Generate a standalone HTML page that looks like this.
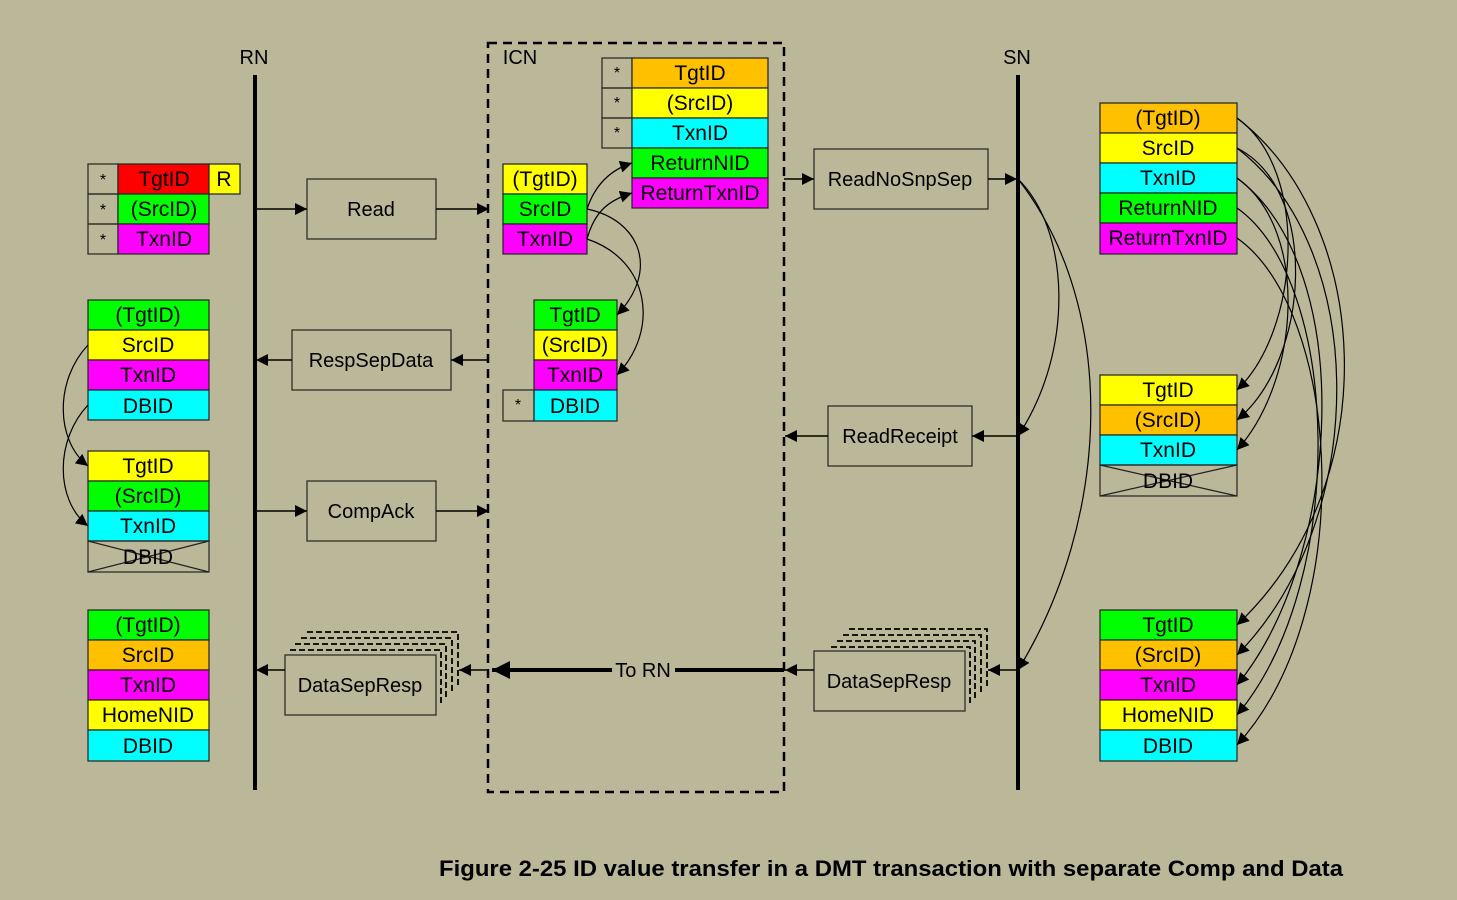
<!DOCTYPE html>
<html><head><meta charset="utf-8"><style>
html,body{margin:0;padding:0;background:#BAB899;}
svg{display:block;}
text{font-family:"Liberation Sans",sans-serif;}
</style></head><body>
<svg width="1457" height="900" viewBox="0 0 1457 900" xmlns="http://www.w3.org/2000/svg">
<defs>
<marker id="a" viewBox="0 0 10 10" refX="10" refY="5" markerWidth="12" markerHeight="12" markerUnits="userSpaceOnUse" orient="auto"><path d="M0,0 L10,5 L0,10 z" fill="#000"/></marker>
<marker id="b" viewBox="0 0 10 10" refX="10" refY="5" markerWidth="18" markerHeight="18" markerUnits="userSpaceOnUse" orient="auto"><path d="M0,0 L10,5 L0,10 z" fill="#000"/></marker>
</defs>
<rect width="1457" height="900" fill="#BAB899"/>
<g font-size="20" text-anchor="middle" fill="#000">
<text x="254" y="64">RN</text><text x="520" y="64">ICN</text><text x="1017" y="64">SN</text>
</g>
<line x1="255" y1="75" x2="255" y2="790" stroke="#000" stroke-width="4"/>
<line x1="1018" y1="75" x2="1018" y2="790" stroke="#000" stroke-width="4"/>
<rect x="488" y="43" width="296" height="749" fill="none" stroke="#000" stroke-width="2.5" stroke-dasharray="9,6"/>

<g stroke="#222" stroke-width="1.2" font-size="20">
<rect x="88" y="164" width="30" height="30" fill="none"/><rect x="88" y="194" width="30" height="30" fill="none"/><rect x="88" y="224" width="30" height="30" fill="none"/>
<rect x="118" y="164" width="91" height="30" fill="#FF0000"/><rect x="118" y="194" width="91" height="30" fill="#00FF00"/><rect x="118" y="224" width="91" height="30" fill="#FF00FF"/>
<rect x="209" y="164" width="31" height="30" fill="#FFFF00"/>
<rect x="88" y="300" width="121" height="30" fill="#00FF00"/><rect x="88" y="330" width="121" height="30" fill="#FFFF00"/><rect x="88" y="360" width="121" height="30" fill="#FF00FF"/><rect x="88" y="390" width="121" height="30" fill="#00FFFF"/>
<rect x="88" y="451" width="121" height="30" fill="#FFFF00"/><rect x="88" y="481" width="121" height="30" fill="#00FF00"/><rect x="88" y="511" width="121" height="30" fill="#00FFFF"/><rect x="88" y="541" width="121" height="31" fill="none"/>
<line x1="88" y1="541" x2="209" y2="572"/><line x1="88" y1="572" x2="209" y2="541"/>
<rect x="88" y="610" width="121" height="30" fill="#00FF00"/><rect x="88" y="640" width="121" height="30" fill="#FFC000"/><rect x="88" y="670" width="121" height="30" fill="#FF00FF"/><rect x="88" y="700" width="121" height="30" fill="#FFFF00"/><rect x="88" y="730" width="121" height="31" fill="#00FFFF"/>
<rect x="602" y="58" width="30" height="30" fill="none"/><rect x="602" y="88" width="30" height="30" fill="none"/><rect x="602" y="118" width="30" height="30" fill="none"/>
<rect x="632" y="58" width="136" height="30" fill="#FFC000"/><rect x="632" y="88" width="136" height="30" fill="#FFFF00"/><rect x="632" y="118" width="136" height="30" fill="#00FFFF"/><rect x="632" y="148" width="136" height="30" fill="#00FF00"/><rect x="632" y="178" width="136" height="30" fill="#FF00FF"/>
<rect x="503" y="164" width="84" height="30" fill="#FFFF00"/><rect x="503" y="194" width="84" height="30" fill="#00FF00"/><rect x="503" y="224" width="84" height="30" fill="#FF00FF"/>
<rect x="534" y="300" width="83" height="30" fill="#00FF00"/><rect x="534" y="330" width="83" height="30" fill="#FFFF00"/><rect x="534" y="360" width="83" height="30" fill="#FF00FF"/><rect x="534" y="390" width="83" height="31" fill="#00FFFF"/>
<rect x="503" y="390" width="31" height="31" fill="none"/>
<rect x="1100" y="103" width="137" height="30" fill="#FFC000"/><rect x="1100" y="133" width="137" height="30" fill="#FFFF00"/><rect x="1100" y="163" width="137" height="30" fill="#00FFFF"/><rect x="1100" y="193" width="137" height="30" fill="#00FF00"/><rect x="1100" y="223" width="137" height="31" fill="#FF00FF"/>
<rect x="1100" y="375" width="137" height="30" fill="#FFFF00"/><rect x="1100" y="405" width="137" height="30" fill="#FFC000"/><rect x="1100" y="435" width="137" height="30" fill="#00FFFF"/><rect x="1100" y="465" width="137" height="31" fill="none"/>
<line x1="1100" y1="496" x2="1237" y2="465"/><line x1="1100" y1="465" x2="1237" y2="496"/>
<rect x="1100" y="610" width="137" height="30" fill="#00FF00"/><rect x="1100" y="640" width="137" height="30" fill="#FFC000"/><rect x="1100" y="670" width="137" height="30" fill="#FF00FF"/><rect x="1100" y="700" width="137" height="30" fill="#FFFF00"/><rect x="1100" y="730" width="137" height="31" fill="#00FFFF"/>
</g>

<g font-size="21" text-anchor="middle" fill="#000">
<text x="103" y="185" font-size="16">*</text><text x="103" y="215" font-size="16">*</text><text x="103" y="245" font-size="16">*</text>
<text x="164" y="186">TgtID</text><text x="164" y="216">(SrcID)</text><text x="164" y="246">TxnID</text><text x="224" y="186">R</text>
<text x="148" y="322">(TgtID)</text><text x="148" y="352">SrcID</text><text x="148" y="382">TxnID</text><text x="148" y="413">DBID</text>
<text x="148" y="473">TgtID</text><text x="148" y="503">(SrcID)</text><text x="148" y="533">TxnID</text><text x="148" y="564">DBID</text>
<text x="148" y="632">(TgtID)</text><text x="148" y="662">SrcID</text><text x="148" y="692">TxnID</text><text x="148" y="722">HomeNID</text><text x="148" y="753">DBID</text>
<text x="617" y="78" font-size="16">*</text><text x="617" y="108" font-size="16">*</text><text x="617" y="138" font-size="16">*</text>
<text x="700" y="80">TgtID</text><text x="700" y="110">(SrcID)</text><text x="700" y="140">TxnID</text><text x="700" y="170">ReturnNID</text><text x="700" y="200">ReturnTxnID</text>
<text x="545" y="186">(TgtID)</text><text x="545" y="216">SrcID</text><text x="545" y="246">TxnID</text>
<text x="575" y="322">TgtID</text><text x="575" y="352">(SrcID)</text><text x="575" y="382">TxnID</text><text x="575" y="413">DBID</text><text x="518" y="410" font-size="16">*</text>
<text x="1168" y="125">(TgtID)</text><text x="1168" y="155">SrcID</text><text x="1168" y="185">TxnID</text><text x="1168" y="215">ReturnNID</text><text x="1168" y="245">ReturnTxnID</text>
<text x="1168" y="397">TgtID</text><text x="1168" y="427">(SrcID)</text><text x="1168" y="457">TxnID</text><text x="1168" y="488">DBID</text>
<text x="1168" y="632">TgtID</text><text x="1168" y="662">(SrcID)</text><text x="1168" y="692">TxnID</text><text x="1168" y="722">HomeNID</text><text x="1168" y="753">DBID</text>
</g>

<g stroke="#222" stroke-width="1.2" fill="none">
<rect x="307" y="179" width="129" height="60"/>
<rect x="292" y="330" width="159" height="60"/>
<rect x="307" y="481" width="129" height="60"/>
<rect x="814" y="149" width="174" height="60"/>
<rect x="828" y="406" width="144" height="60"/>
<g stroke-dasharray="6,3" stroke-width="1.8" stroke="#000">
<path d="M307,632 H458 V688"/><path d="M301,638 H452 V694"/><path d="M295,644 H446 V700"/><path d="M290,650 H441 V706"/>
<path d="M849,629 H987 V687"/><path d="M843,635 H981 V693"/><path d="M837,641 H975 V699"/><path d="M831,647 H970 V705"/>
</g>
<rect x="285" y="655" width="151" height="60" fill="#BAB899"/>
<rect x="814" y="651" width="151" height="60" fill="#BAB899"/>
</g>
<g font-size="20" text-anchor="middle" fill="#000">
<text x="371" y="216">Read</text><text x="371" y="367">RespSepData</text><text x="371" y="518">CompAck</text>
<text x="900" y="186">ReadNoSnpSep</text><text x="900" y="443">ReadReceipt</text>
<text x="360" y="692">DataSepResp</text><text x="889" y="688">DataSepResp</text>
</g>

<g stroke="#000" stroke-width="1.5" fill="none" marker-end="url(#a)">
<line x1="255" y1="209" x2="307" y2="209"/><line x1="436" y1="209" x2="489" y2="209"/>
<line x1="784" y1="179" x2="814" y2="179"/><line x1="988" y1="179" x2="1017" y2="179"/>
<line x1="488" y1="360" x2="451" y2="360"/><line x1="292" y1="360" x2="256" y2="360"/>
<line x1="1017" y1="436" x2="972" y2="436"/><line x1="828" y1="436" x2="785" y2="436"/>
<line x1="255" y1="511" x2="307" y2="511"/><line x1="436" y1="511" x2="489" y2="511"/>
<line x1="488" y1="670" x2="459" y2="670"/><line x1="285" y1="670" x2="256" y2="670"/>
<line x1="1017" y1="670" x2="988" y2="670"/><line x1="814" y1="670" x2="785" y2="670"/>
</g>
<line x1="784" y1="670" x2="675" y2="670" stroke="#000" stroke-width="4"/>
<line x1="612" y1="670" x2="492" y2="670" stroke="#000" stroke-width="4" marker-end="url(#b)"/>
<text x="643" y="677" font-size="20" text-anchor="middle" font-family="Liberation Sans">To RN</text>

<g stroke="#000" stroke-width="1.2" fill="none" marker-end="url(#a)">
<path d="M88,345 C55,380 55,440 88,466"/>
<path d="M88,405 C55,440 55,500 88,526"/>
<path d="M587,209 C595,185 610,170 632,163"/>
<path d="M587,239 C595,210 610,200 632,193"/>
<path d="M587,209 C640,220 660,270 617,315"/>
<path d="M587,239 C650,260 660,330 617,375"/>
<path d="M1018,179 C1070,230 1075,350 1018,436"/>
<path d="M1018,179 C1120,310 1110,520 1018,670"/>
<path d="M1237,118 C1310,170 1300,330 1237,390"/>
<path d="M1237,148 C1320,190 1310,360 1237,420"/>
<path d="M1237,178 C1310,230 1300,380 1237,450"/>
<path d="M1237,118 C1370,220 1390,480 1237,625"/>
<path d="M1237,148 C1370,250 1370,520 1237,655"/>
<path d="M1237,178 C1360,270 1340,560 1237,685"/>
<path d="M1237,208 C1340,280 1350,580 1237,715"/>
<path d="M1237,238 C1340,310 1360,610 1237,745"/>
</g>

<text x="439" y="876" font-size="22" font-weight="bold" textLength="904" lengthAdjust="spacingAndGlyphs" font-family="Liberation Sans">Figure 2-25 ID value transfer in a DMT transaction with separate Comp and Data</text>
</svg>
</body></html>
